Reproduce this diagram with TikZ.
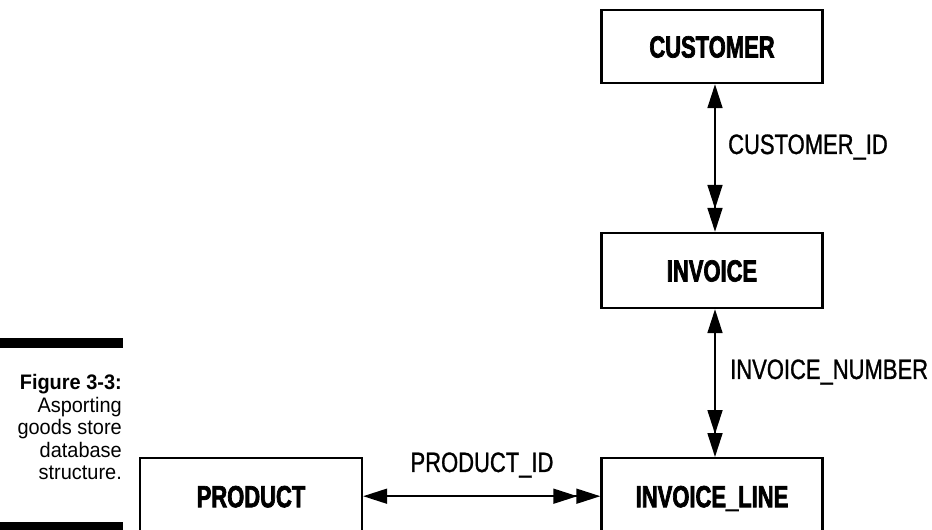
\documentclass[tikz,border=0pt]{standalone}
\usepackage{fontspec}
\setmainfont{Liberation Sans}
\newfontfamily\boxfont{Liberation Sans}[UprightFont={* Bold},FakeStretch=0.72,FakeBold=2.2]
\newfontfamily\lblfont{Liberation Sans}[FakeStretch=0.785,FakeBold=1]
\newfontfamily\capfont{Liberation Sans}[FakeStretch=0.95]
\usetikzlibrary{arrows.meta}
\tikzset{
  entity/.style={draw, line width=2.4pt, minimum width=221pt, inner sep=0pt,
    font=\boxfont\fontsize{30.5}{36}\selectfont, text height=22pt, text depth=0pt},
  rel/.style={line width=1.7pt,
    {Triangle[length=24pt,width=15pt]}-{Triangle[length=24pt,width=15pt,sep=-1pt] Triangle[length=24pt,width=15pt]}},
  rellabel/.style={font=\lblfont\fontsize{28}{32}\selectfont, inner sep=0pt},
  bar/.style={fill=black, draw=none}
}
\begin{document}
\begin{tikzpicture}[x=1pt,y=-1pt]
\useasboundingbox (0,0) rectangle (932,530);
\clip (0,0) rectangle (932,530);
% boxes
\node[entity, minimum height=73pt] (cust) at (712,46.5) {CUSTOMER};
\node[entity, minimum height=75pt] (inv) at (712,270.5) {INVOICE};
\node[entity, minimum height=76pt, anchor=north] (line) at (712,457) {INVOICE\_LINE};
\node[entity, minimum height=76pt, anchor=north, minimum width=222pt] (prod) at (251,457) {PRODUCT};
% connectors
\draw[rel] ([xshift=3pt]cust.south) -- ([xshift=3pt]inv.north);
\draw[rel] ([xshift=3pt]inv.south) -- ([xshift=3pt]line.north);
\draw[rel] (prod.east) -- (line.west);
% labels
\node[rellabel, anchor=west] (l1) at (728,147) {CUSTOMER\_ID};
\node[rellabel, anchor=west] (l2) at (730,372) {INVOICE\_NUMBER};
\node[rellabel] (l3) at (482,465) {PRODUCT\_ID};
% caption
\fill[bar] (0,338) rectangle (123,348);
\fill[bar] (0,522) rectangle (123,532);
\node[anchor=north east, align=right, inner sep=0pt, font=\capfont\fontsize{21}{22.6}\selectfont] (cap) at (122,374)
  {\textbf{Figure 3-3:}\\Asporting\\goods store\\database\\structure.};
\end{tikzpicture}
\end{document}
